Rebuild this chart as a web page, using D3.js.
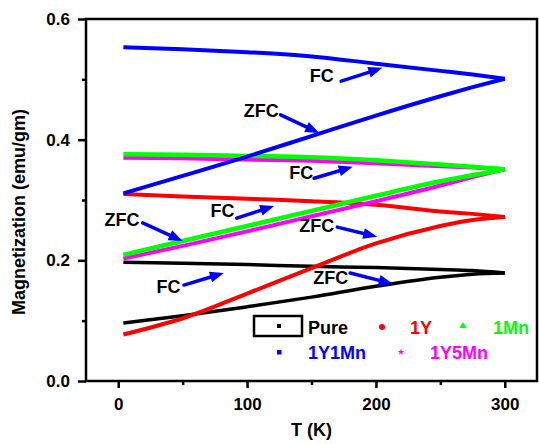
<!DOCTYPE html>
<html>
<head>
<meta charset="utf-8">
<script src="https://cdn.jsdelivr.net/npm/d3@7"></script>
<style>
body { margin: 0; background: #fff; }
text { font-family: Arial, "Liberation Sans", sans-serif; font-weight: bold; }
</style>
</head>
<body>
<svg id="chart" width="539" height="444"></svg>
<script>
// temperature points (K) shared by every curve
var temps = [4, 50, 100, 150, 200, 250, 275, 300];

// magnetization (emu/gm), FC and ZFC per sample
var pureFC    = [0.197, 0.195, 0.193, 0.190, 0.188, 0.185, 0.183, 0.179];
var pureZFC   = [0.096, 0.108, 0.123, 0.139, 0.157, 0.172, 0.177, 0.179];
var y1FC      = [0.310, 0.306, 0.302, 0.298, 0.292, 0.281, 0.277, 0.272];
var y1ZFC     = [0.077, 0.104, 0.145, 0.187, 0.228, 0.257, 0.267, 0.272];
var mn1FC     = [0.376, 0.375, 0.373, 0.371, 0.366, 0.359, 0.355, 0.351];
var mn1ZFC    = [0.209, 0.232, 0.257, 0.282, 0.307, 0.331, 0.341, 0.351];
var y1mn1FC   = [0.553, 0.550, 0.545, 0.538, 0.526, 0.514, 0.508, 0.501];
var y1mn1ZFC  = [0.311, 0.340, 0.372, 0.406, 0.440, 0.472, 0.487, 0.501];
var y1mn5FC   = [0.370, 0.369, 0.367, 0.365, 0.361, 0.356, 0.354, 0.351];
var y1mn5ZFC  = [0.203, 0.224, 0.248, 0.273, 0.298, 0.324, 0.338, 0.351];

var xTicks = [0, 100, 200, 300];
var xMinor = [50, 150, 250];
var yTicks = [0, 0.2, 0.4, 0.6];
var yMinor = [0.1, 0.3, 0.5];

// label, text position (T, M), arrow from (T, M) to (T, M)
var notes = [
  ["FC",  158, 0.506, 173, 0.497, 205, 0.519],
  ["ZFC", 111, 0.448, 126, 0.441, 156, 0.411],
  ["FC",  142, 0.345, 152, 0.336, 182, 0.355],
  ["FC",   81, 0.283,  92, 0.270, 121, 0.290],
  ["ZFC",   3, 0.267,  19, 0.262,  50, 0.232],
  ["ZFC", 154, 0.257, 170, 0.255, 201, 0.239],
  ["FC",   39, 0.156,  51, 0.159,  82, 0.179],
  ["ZFC", 165, 0.172, 180, 0.179, 213, 0.161]
];

var series = [
  { name: "Pure",  color: "#000000", fc: pureFC,  zfc: pureZFC,  w: 3.5 },
  { name: "1Y",    color: "#ff0000", fc: y1FC,    zfc: y1ZFC,    w: 4 },
  { name: "1Y5Mn", color: "#ff00ff", fc: y1mn5FC, zfc: y1mn5ZFC, w: 4 },
  { name: "1Mn",   color: "#00ff00", fc: mn1FC,   zfc: mn1ZFC,   w: 4.5 },
  { name: "1Y1Mn", color: "#0000ff", fc: y1mn1FC, zfc: y1mn1ZFC, w: 4 }
];

var margin = { top: 19, right: 2, bottom: 63, left: 86 };
var width = 539 - margin.left - margin.right;
var height = 444 - margin.top - margin.bottom;

var svg = d3.select("#chart");
var g = svg.append("g").attr("transform", "translate(" + margin.left + "," + margin.top + ")");

var x = d3.scaleLinear().domain([-25, 325]).range([0, width]);
var y = d3.scaleLinear().domain([0, 0.6]).range([height, 0]);

// axes
g.append("g").attr("transform", "translate(0," + height + ")")
  .call(d3.axisBottom(x).tickValues(xTicks).tickSize(7).tickSizeOuter(0).tickPadding(10).tickFormat(d3.format("d")));
g.append("g").attr("transform", "translate(0," + height + ")")
  .call(d3.axisBottom(x).tickValues(xMinor).tickSize(4).tickSizeOuter(0).tickFormat(""));
g.append("g")
  .call(d3.axisLeft(y).tickValues(yTicks).tickSize(8).tickSizeOuter(0).tickPadding(8).tickFormat(d3.format(".1f")));
g.append("g")
  .call(d3.axisLeft(y).tickValues(yMinor).tickSize(4).tickSizeOuter(0).tickFormat(""));

g.selectAll(".domain").remove();
g.selectAll(".tick line").attr("stroke", "#000").attr("stroke-width", 2.5);
g.selectAll(".tick text").attr("fill", "#000").style("font-size", "17px");

g.append("rect")
  .attr("width", width).attr("height", height)
  .attr("fill", "none").attr("stroke", "#000").attr("stroke-width", 2.5);

// curves
var line = d3.line()
  .x(function(d) { return x(d[0]); })
  .y(function(d) { return y(d[1]); })
  .curve(d3.curveMonotoneX);

series.forEach(function(s) {
  [s.zfc, s.fc].forEach(function(vals) {
    g.append("path")
      .datum(temps.map(function(t, i) { return [t, vals[i]]; }))
      .attr("fill", "none")
      .attr("stroke", s.color)
      .attr("stroke-width", s.w)
      .attr("stroke-linejoin", "round")
      .attr("d", line);
  });
});

// FC / ZFC notes with blue arrows
notes.forEach(function(n) {
  g.append("text")
    .attr("x", x(n[1])).attr("y", y(n[2]))
    .attr("dy", "0.36em")
    .attr("text-anchor", "middle")
    .style("font-size", "18px")
    .text(n[0]);

  var x1 = x(n[3]), y1 = y(n[4]), x2 = x(n[5]), y2 = y(n[6]);
  var a = Math.atan2(y2 - y1, x2 - x1);
  var head = 14, half = 5.5;
  var bx = x2 - head * Math.cos(a), by = y2 - head * Math.sin(a);
  g.append("line")
    .attr("x1", x1).attr("y1", y1)
    .attr("x2", x2 - (head - 2) * Math.cos(a)).attr("y2", y2 - (head - 2) * Math.sin(a))
    .attr("stroke", "#0000ff").attr("stroke-width", 3.5).attr("stroke-linecap", "round");
  g.append("path")
    .attr("fill", "#0000ff")
    .attr("d", "M" + x2 + "," + y2 +
      "L" + (bx + half * Math.sin(a)) + "," + (by - half * Math.cos(a)) +
      "L" + (bx - half * Math.sin(a)) + "," + (by + half * Math.cos(a)) + "Z");
});

// legend
var legend = svg.append("g");
legend.append("rect")
  .attr("x", 254).attr("y", 316).attr("width", 48).attr("height", 20)
  .attr("fill", "none").attr("stroke", "#000").attr("stroke-width", 2.5);
legend.append("rect").attr("x", 277).attr("y", 324).attr("width", 4).attr("height", 4).attr("fill", "#000");
legend.append("circle").attr("cx", 382).attr("cy", 327).attr("r", 3).attr("fill", "#ff0000");
legend.append("path").attr("d", d3.symbol().type(d3.symbolTriangle).size(22)).attr("transform", "translate(463,326)").attr("fill", "#00ff00");
legend.append("rect").attr("x", 277).attr("y", 350).attr("width", 4.5).attr("height", 4.5).attr("fill", "#0000ff");
legend.append("path").attr("d", d3.symbol().type(d3.symbolStar).size(14)).attr("transform", "translate(401,352)").attr("fill", "#ff00ff");

var legendText = [
  ["Pure", 308, 334, "#000000"],
  ["1Y", 410, 334, "#ff0000"],
  ["1Mn", 493, 334, "#00ff00"],
  ["1Y1Mn", 308, 359, "#0000ff"],
  ["1Y5Mn", 430, 359, "#ff00ff"]
];
legend.selectAll("text.lg").data(legendText).enter().append("text")
  .attr("class", "lg")
  .attr("x", function(d) { return d[1]; })
  .attr("y", function(d) { return d[2]; })
  .attr("fill", function(d) { return d[3]; })
  .style("font-size", "18px")
  .text(function(d) { return d[0]; });

// axis titles
svg.append("text")
  .attr("x", margin.left + width / 2).attr("y", 436)
  .attr("text-anchor", "middle")
  .style("font-size", "18px")
  .text("T (K)");
svg.append("text")
  .attr("transform", "translate(25," + (margin.top + height / 2 + 12) + ") rotate(-90)")
  .attr("text-anchor", "middle")
  .style("font-size", "18px")
  .text("Magnetization (emu/gm)");
</script>
</body>
</html>
